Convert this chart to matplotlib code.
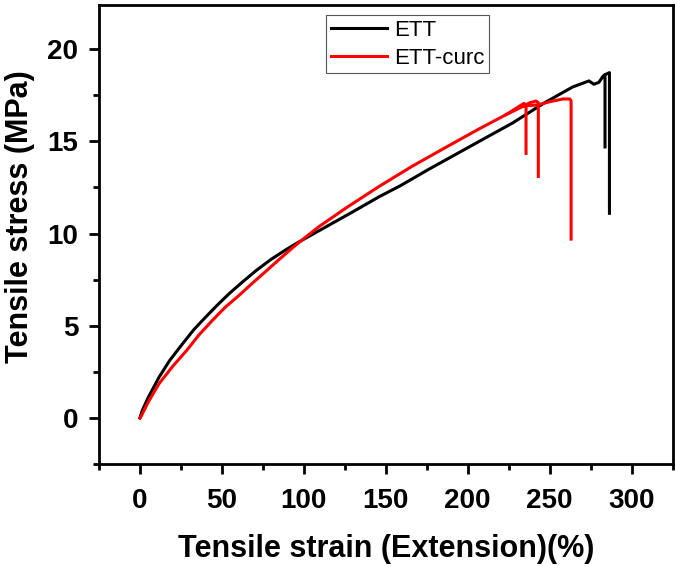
import numpy as np
import matplotlib
matplotlib.use("Agg")
import matplotlib.pyplot as plt
from matplotlib.ticker import MultipleLocator

plt.rcParams['font.family'] = ['Liberation Sans', 'DejaVu Sans']

# ETT main curve
ett_strain = [0, 1.4, 5, 11.6, 18, 25.8, 33, 40.1, 47, 54.4, 62, 70.7, 80, 89, 97.1,
              113.4, 129.7, 146, 159, 176.5, 186.7, 207, 227.4, 247, 264, 274, 277,
              280, 282.4, 283.8, 286.5, 286.5]
ett_stress = [0, 0.4, 1.1, 2.2, 3.1, 4.0, 4.8, 5.47, 6.1, 6.74, 7.33, 7.98, 8.6, 9.12, 9.55,
              10.36, 11.17, 12.0, 12.6, 13.5, 14.0, 15.0, 16.0, 17.1, 17.95, 18.28, 18.1,
              18.2, 18.5, 18.62, 18.73, 11.1]
# second ETT specimen break
ett_tail_strain = [282.4, 283.8, 283.8]
ett_tail_stress = [18.5, 18.62, 14.7]

# ETT-curc main curve
curc_strain = [0, 0.4, 5, 11.6, 20, 28.5, 36, 44.2, 52, 60.5, 68.5, 76.8, 85, 93, 101, 109.3,
               125.6, 142, 146, 166.3, 186.7, 207, 223.4, 234.2, 242.8, 250, 258, 262.3,
               263.1, 263.1]
curc_stress = [0, 0.03, 0.85, 1.85, 2.8, 3.66, 4.5, 5.29, 6.0, 6.65, 7.3, 7.95, 8.6, 9.22,
               9.8, 10.38, 11.38, 12.33, 12.56, 13.66, 14.68, 15.68, 16.45, 16.92, 16.98, 17.15,
               17.3, 17.3, 17.2, 9.7]
# the two earlier ETT-curc breaks
curc_tail1_strain = [223.4, 230, 234.2, 235.6, 235.6]
curc_tail1_stress = [16.45, 16.82, 17.06, 17.0, 14.35]
curc_tail2_strain = [234.2, 238, 241.7, 243.1, 243.1]
curc_tail2_stress = [16.92, 17.1, 17.19, 17.1, 13.1]

fig = plt.figure(figsize=(6.77, 5.66), dpi=100)
ax = fig.add_axes([0.1462, 0.1802, 0.8472, 0.811])

ax.plot(ett_strain, ett_stress, color='black', lw=2.2, label='ETT')
ax.plot(ett_tail_strain, ett_tail_stress, color='black', lw=2.2)
ax.plot(curc_strain, curc_stress, color='red', lw=2.2, label='ETT-curc')
ax.plot(curc_tail1_strain, curc_tail1_stress, color='red', lw=2.2)
ax.plot(curc_tail2_strain, curc_tail2_stress, color='red', lw=2.2)

ax.set_xlim(-25, 325)
ax.set_ylim(-2.5, 22.4)
ax.xaxis.set_major_locator(MultipleLocator(50))
ax.xaxis.set_minor_locator(MultipleLocator(25))
ax.yaxis.set_major_locator(MultipleLocator(5))
ax.yaxis.set_minor_locator(MultipleLocator(2.5))
ax.tick_params(which='major', direction='out', length=7, width=2, labelsize=20)
ax.tick_params(axis='x', which='major', pad=10)
ax.tick_params(axis='y', which='major', pad=8)
ax.tick_params(which='minor', direction='out', length=4, width=2)
for lbl in ax.get_xticklabels() + ax.get_yticklabels():
    lbl.set_fontweight('bold')
for sp in ax.spines.values():
    sp.set_linewidth(2)

ax.set_xlabel('Tensile strain (Extension)(%)', fontsize=22, fontweight='bold')
ax.set_ylabel('Tensile stress (MPa)', fontsize=22, fontweight='bold')
ax.xaxis.set_label_coords(0.5, -0.152)
ax.yaxis.set_label_coords(-0.112, 0.54)

leg = ax.legend(loc='upper left', bbox_to_anchor=(0.396, 0.978), borderaxespad=0,
                fontsize=16, handlelength=2.55, fancybox=False, framealpha=1,
                borderpad=0.2, labelspacing=0.32, handletextpad=0.3)
leg.get_frame().set_edgecolor('#555555')
leg.get_frame().set_linewidth(0.8)

fig.savefig('out.png', dpi=100)
